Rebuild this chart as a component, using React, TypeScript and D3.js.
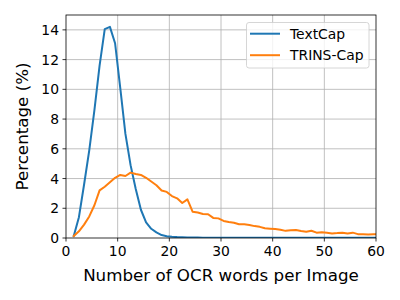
import React from "react";
import * as d3 from "d3";

const xValues: number[] = Array.from({ length: 60 }, (_, i) => i + 1.5);

const textCap: number[] = [
  0.13, 1.4, 3.6, 5.9, 8.6, 11.6, 14.05, 14.2, 13.1, 10.1,
  7.0, 4.9, 3.3, 1.9, 1.05, 0.62, 0.38, 0.2, 0.12, 0.08,
  0.06, 0.05, 0.04, 0.03, 0.03, 0.02, 0.02, 0.02, 0.02, 0.02,
  0.01, 0.01, 0.01, 0.01, 0.01, 0.01, 0.01, 0.01, 0.01, 0.01,
  0.01, 0.01, 0.01, 0.01, 0.01, 0.01, 0.01, 0.01, 0.01, 0.01,
  0.01, 0.01, 0.01, 0.01, 0.01, 0.01, 0.01, 0.01, 0.01, 0.01,
];

const trinsCap: number[] = [
  0.13, 0.45, 0.9, 1.45, 2.2, 3.2, 3.45, 3.75, 4.05, 4.24,
  4.17, 4.4, 4.3, 4.24, 4.05, 3.8, 3.55, 3.2, 3.1, 2.82,
  2.67, 2.35, 2.6, 1.77, 1.72, 1.62, 1.6, 1.35, 1.32, 1.15,
  1.08, 1.03, 0.93, 0.92, 0.88, 0.8, 0.75, 0.66, 0.63, 0.6,
  0.55, 0.48, 0.52, 0.54, 0.47, 0.42, 0.49, 0.36, 0.38, 0.35,
  0.31, 0.33, 0.36, 0.31, 0.36, 0.26, 0.25, 0.24, 0.26, 0.25,
];

const xTicks: number[] = [0, 10, 20, 30, 40, 50, 60];
const yTicks: number[] = [0, 2, 4, 6, 8, 10, 12, 14];
const seriesNames: string[] = ["TextCap", "TRINS-Cap"];
const colors: string[] = ["#1f77b4", "#ff7f0e"];

export default function App() {
  const left = 66, right = 376, top = 15, bottom = 238;
  const x = d3.scaleLinear().domain([0, 60]).range([left, right]);
  const y = d3.scaleLinear().domain([0, 15]).range([bottom, top]);
  const line = d3
    .line<number>()
    .x((_, i) => x(xValues[i]))
    .y((d) => y(d));
  const font = "DejaVu Sans, sans-serif";
  const series = [textCap, trinsCap];
  return (
    <svg
      width={400}
      height={300}
      style={{ position: "absolute", left: 0, top: 0, background: "#fff" }}
      fontFamily={font}
    >
      <defs>
        <clipPath id="plot">
          <rect x={left} y={top} width={right - left} height={bottom - top} />
        </clipPath>
      </defs>
      <rect x={0} y={0} width={400} height={300} fill="#fff" />
      {xTicks.slice(1, -1).map((t) => (
        <line key={"gx" + t} x1={x(t)} x2={x(t)} y1={top} y2={bottom} stroke="#b0b0b0" strokeWidth={0.8} />
      ))}
      {yTicks.slice(1).map((t) => (
        <line key={"gy" + t} x1={left} x2={right} y1={y(t)} y2={y(t)} stroke="#b0b0b0" strokeWidth={0.8} />
      ))}
      <g clipPath="url(#plot)">
        {series.map((s, i) => (
          <path key={i} d={line(s) || ""} fill="none" stroke={colors[i]} strokeWidth={2} strokeLinejoin="round" strokeLinecap="square" />
        ))}
      </g>
      <rect x={left} y={top} width={right - left} height={bottom - top} fill="none" stroke="#000" strokeWidth={0.8} />
      {xTicks.map((t) => (
        <g key={"tx" + t}>
          <line x1={x(t)} x2={x(t)} y1={bottom} y2={bottom + 3.5} stroke="#000" strokeWidth={0.8} />
          <text x={x(t)} y={bottom + 7} dy="0.76em" textAnchor="middle" fontSize={13.9} fill="#000">
            {t}
          </text>
        </g>
      ))}
      {yTicks.map((t) => (
        <g key={"ty" + t}>
          <line x1={left} x2={left - 3.5} y1={y(t)} y2={y(t)} stroke="#000" strokeWidth={0.8} />
          <text x={left - 7} y={y(t)} dy="0.36em" textAnchor="end" fontSize={13.9} fill="#000">
            {t}
          </text>
        </g>
      ))}
      <text x={(left + right) / 2} y={281} textAnchor="middle" fontSize={16.7} fill="#000">
        Number of OCR words per Image
      </text>
      <text transform={`translate(28, ${(top + bottom) / 2}) rotate(-90)`} textAnchor="middle" fontSize={16.7} fill="#000">
        Percentage (%)
      </text>
      <rect x={246.5} y={22.5} width={122.5} height={45.5} rx={2.5} fill="#fff" fillOpacity={0.8} stroke="#cccccc" strokeWidth={0.8} />
      {seriesNames.map((n, i) => (
        <g key={n}>
          <line x1={250} x2={280} y1={33.7 + i * 21.5} y2={33.7 + i * 21.5} stroke={colors[i]} strokeWidth={2} />
          <text x={290} y={33.7 + i * 21.5} dy="0.36em" fontSize={13.9} fill="#000">
            {n}
          </text>
        </g>
      ))}
    </svg>
  );
}
